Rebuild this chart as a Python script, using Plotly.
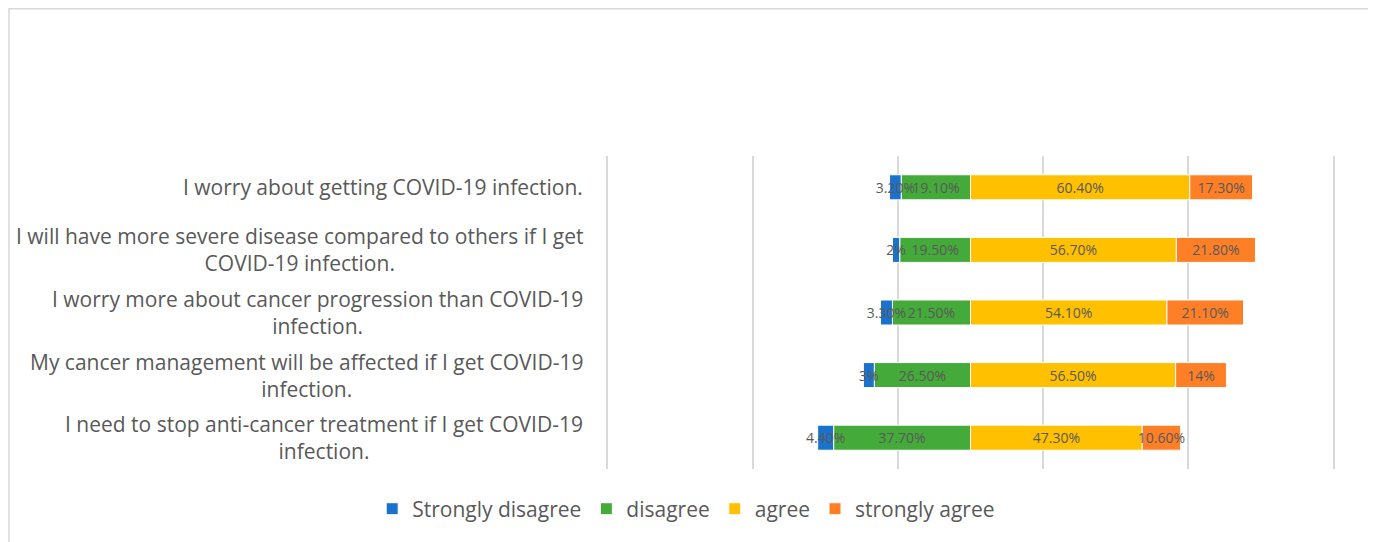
import plotly.graph_objects as go

# statements, top to bottom as in the chart
statements = [
    "I worry about getting COVID-19 infection.",
    "I will have more severe disease compared to others if I get<br>COVID-19 infection.",
    "I worry more about cancer progression than COVID-19<br>infection.",
    "My cancer management will be affected if I get COVID-19<br>infection.",
    "I need to stop anti-cancer treatment if I get COVID-19<br>infection.",
]

# percentages per response
strongly_disagree = [3.2, 2, 3.3, 3, 4.4]
disagree = [19.1, 19.5, 21.5, 26.5, 37.7]
agree = [60.4, 56.7, 54.1, 56.5, 47.3]
strongly_agree = [17.3, 21.8, 21.1, 14, 10.6]


def pct(v):
    return f"{int(v)}%" if float(v).is_integer() else f"{v:.2f}%"


grey = "#595959"
font = "Open Sans"

fig = go.Figure()

# disagree goes first so it stacks next to zero on the negative side
series = [
    ("disagree", disagree, "#44AA3A", -1, 2),
    ("Strongly disagree", strongly_disagree, "#1B72CC", -1, 1),
    ("agree", agree, "#FFC000", 1, 3),
    ("strongly agree", strongly_agree, "#FF7F27", 1, 4),
]
for name, vals, color, sign, rank in series:
    fig.add_trace(go.Bar(
        name=name,
        y=statements,
        x=[sign * v for v in vals],
        orientation="h",
        marker=dict(color=color, line=dict(color="white", width=1)),
        text=[pct(v) for v in vals],
        textposition="inside",
        insidetextanchor="middle",
        textangle=0,
        constraintext="none",
        textfont=dict(family=font, size=14, color=grey),
        legendrank=rank,
    ))

# wrapped, centred category labels
for s in statements:
    fig.add_annotation(
        text=s, xref="paper", yref="y", x=0, y=s,
        xanchor="right", xshift=-21, align="center", showarrow=False,
        font=dict(family=font, size=21, color=grey),
    )

# chart border
fig.add_shape(
    type="rect", xref="paper", yref="paper",
    x0=-0.819, x1=1.0494, y0=-0.3, y1=1.4705,
    line=dict(color="#D9D9D9", width=1.5), layer="below",
)

fig.update_layout(
    width=1368,
    height=534,
    autosize=False,
    barmode="relative",
    bargap=0.6,
    plot_bgcolor="white",
    paper_bgcolor="white",
    margin=dict(l=598, r=41, t=148, b=73, autoexpand=False),
    font=dict(family=font, color=grey),
    legend=dict(
        orientation="h", x=0.11, xanchor="center",
        y=-0.128, yanchor="middle", font=dict(size=21, color=grey),
    ),
    xaxis=dict(
        range=[-100.4, 100.4], tickvals=[-100, -60, -20, 20, 60, 100],
        showticklabels=False, showgrid=True, gridcolor="#D9D9D9", gridwidth=1.5,
        zeroline=False,
    ),
    yaxis=dict(
        categoryorder="array", categoryarray=statements, autorange="reversed",
        showticklabels=False, showgrid=False, zeroline=False,
    ),
)

fig.write_html("out.html")
